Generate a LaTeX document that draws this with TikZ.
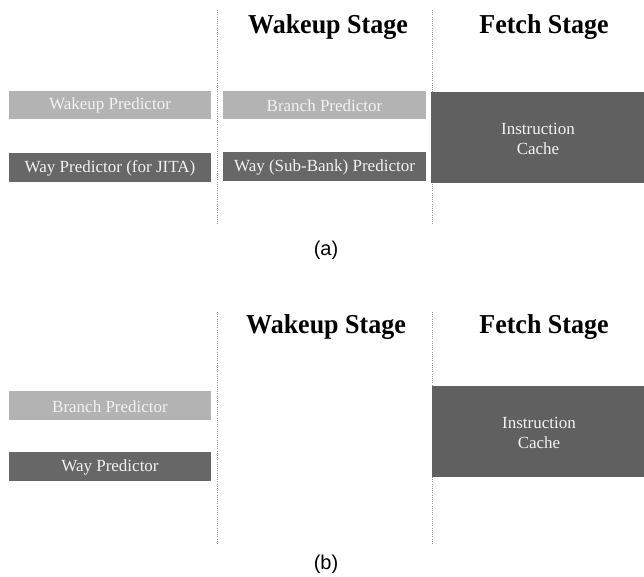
\documentclass[tikz,border=0pt]{standalone}
\usepackage{fontspec}
\setmainfont{Liberation Serif}
\newfontfamily\capfont{Liberation Sans}
\definecolor{lightbox}{HTML}{B3B3B3}
\definecolor{darkbox}{HTML}{676767}
\definecolor{cachebox}{HTML}{606060}
\definecolor{boxtext}{HTML}{F2F2F2}
\begin{document}
\begin{tikzpicture}[x=1pt,y=-1pt,
  lbox/.style={fill=lightbox,draw=none},
  dbox/.style={fill=darkbox,draw=none},
  cbox/.style={fill=cachebox,draw=none},
  btext/.style={text=boxtext,font=\fontsize{17}{20}\selectfont,align=center},
  stagetitle/.style={font=\bfseries\fontsize{26}{30}\selectfont,yscale=1.05},
  captext/.style={font=\capfont\fontsize{20}{24}\selectfont},
  divider/.style={draw=gray!80,line width=0.8pt,dash pattern=on 1pt off 1.2pt}]
\useasboundingbox (0,0) rectangle (644,576);
% ---------- panel (a)
\coordinate (a1t) at (217,10); \coordinate (a1b) at (217,225);
\coordinate (a2t) at (432,10); \coordinate (a2b) at (432,225);
\draw[divider] (a1t) -- (a1b);
\draw[divider] (a2t) -- (a2b);
\node[stagetitle] (aws) at (328,27.5) {Wakeup Stage};
\node[stagetitle] (afs) at (544,27.5) {Fetch Stage};
\fill[lbox] (9,91) rectangle (211,119);
\node[btext] (awp) at (110,105.5) {Wakeup Predictor};
\fill[dbox] (9,153) rectangle (211,182);
\node[btext] (awj) at (110,168.5) {Way Predictor (for JITA)};
\fill[lbox] (223,91) rectangle (426,119);
\node[btext] (abp) at (324.5,105.5) {Branch Predictor};
\fill[dbox] (223,152) rectangle (426,181);
\node[btext] (asb) at (324.5,167.5) {Way (Sub-Bank) Predictor};
\fill[cbox] (431,92) rectangle (644,183);
\node[btext] (aic) at (538,139) {Instruction\\Cache};
\node[captext] (acap) at (326,250.5) {(a)};
% ---------- panel (b)
\coordinate (b1t) at (217,312); \coordinate (b1b) at (217,545);
\coordinate (b2t) at (432,312); \coordinate (b2b) at (432,545);
\draw[divider] (b1t) -- (b1b);
\draw[divider] (b2t) -- (b2b);
\node[stagetitle] (bws) at (326,327.5) {Wakeup Stage};
\node[stagetitle] (bfs) at (544,327.5) {Fetch Stage};
\fill[lbox] (9,391) rectangle (211,420);
\node[btext] (bbp) at (110,406.5) {Branch Predictor};
\fill[dbox] (9,452) rectangle (211,481);
\node[btext] (bwp) at (110,467.5) {Way Predictor};
\fill[cbox] (432,386) rectangle (644,477);
\node[btext] (bic) at (539,432.5) {Instruction\\Cache};
\node[captext] (bcap) at (326,564.5) {(b)};
\end{tikzpicture}
\end{document}
